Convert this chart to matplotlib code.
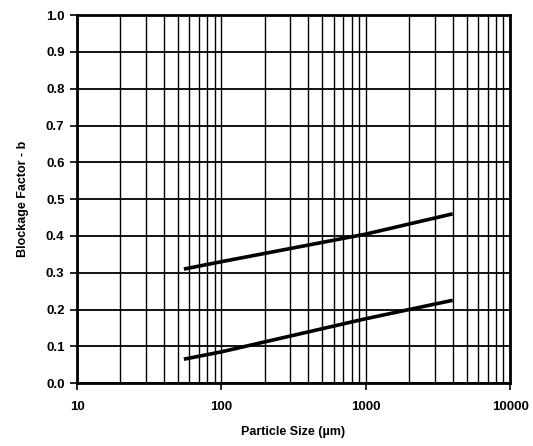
import numpy as np
import matplotlib.pyplot as plt
from matplotlib.ticker import LogLocator, FixedLocator, NullFormatter

plt.rcParams['font.family'] = ['Liberation Sans', 'DejaVu Sans']
plt.rcParams['font.weight'] = 'bold'

# blockage factor vs particle size, two curves
size_um = [55, 100, 1000, 4000]
b_upper = [0.31, 0.33, 0.405, 0.46]
b_lower = [0.065, 0.085, 0.175, 0.225]

x_ticks = [10, 100, 1000, 10000]
x_tick_labels = ['10', '100', '1000', '10000']
y_ticks = np.round(np.arange(0, 1.01, 0.1), 1)

fig = plt.figure(figsize=(5.33, 4.46), dpi=100)
ax = fig.add_axes([0.1445, 0.141, 0.8125, 0.825])

ax.plot(size_um, b_upper, color='black', lw=2.6, solid_capstyle='butt')
ax.plot(size_um, b_lower, color='black', lw=2.6, solid_capstyle='butt')

ax.set_xscale('log')
ax.set_xlim(10, 10000)
ax.set_ylim(0, 1.0)
ax.xaxis.set_major_locator(FixedLocator(x_ticks))
ax.set_xticklabels(x_tick_labels)
ax.xaxis.set_minor_locator(LogLocator(base=10, subs=np.arange(2, 10)))
ax.xaxis.set_minor_formatter(NullFormatter())
ax.set_yticks(y_ticks)
ax.set_yticklabels([f'{v:.1f}' for v in y_ticks])

ax.grid(True, which='both', axis='x', color='black', lw=1.0)
ax.grid(True, which='major', axis='y', color='black', lw=1.3)
ax.set_axisbelow(True)

for s in ax.spines.values():
    s.set_linewidth(2.0)

ax.tick_params(axis='both', which='major', direction='out', length=5, width=1.2,
               labelsize=9.5, pad=4)
ax.tick_params(axis='x', which='minor', length=0)
ax.tick_params(axis='x', pad=8)

ax.set_xlabel('Particle Size (\u00b5m)', fontsize=9, fontweight='bold', labelpad=9)
ax.set_ylabel('Blockage Factor - b', fontsize=9, fontweight='bold', labelpad=12)

fig.savefig('out.png', dpi=100)
